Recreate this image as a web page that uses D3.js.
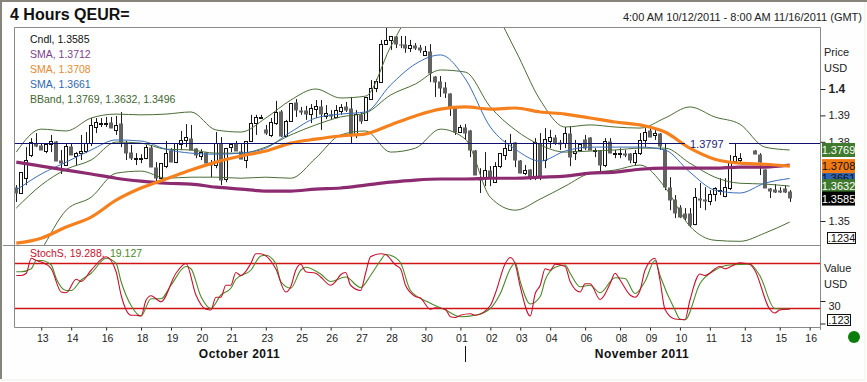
<!DOCTYPE html>
<html>
<head>
<meta charset="utf-8">
<title>4 Hours QEUR=</title>
<script src="https://cdn.jsdelivr.net/npm/d3@7"></script>
<style>
    html, body { margin: 0; padding: 0; background: #fff; overflow: hidden; }
    svg { display: block; font-family: "Liberation Sans", Arial, sans-serif; }
    .axis .domain { display: none; }
    .axis line { stroke: #222; }
    .axis text { fill: #222; font-family: "Liberation Sans", Arial, sans-serif; }
</style>
</head>
<body>
<div id="chart"></div>
<script>
// 4 hour candles, null where the picture has no candle
const opens = [1.3628,1.3606,1.3662,1.3750,1.3795,1.3788,1.3765,1.3792,1.3803,1.3731,
    1.3712,1.3784,1.3746,1.3757,1.3765,1.3795,1.3856,1.3868,1.3868,1.3875,
    1.3845,1.3871,1.3795,1.3761,1.3734,1.3734,1.3738,1.3780,1.3704,1.3662,
    1.3708,1.3769,1.3723,1.3792,1.3807,1.3814,1.3776,1.3746,1.3761,1.3723,
    1.3712,1.3795,1.3659,1.3780,1.3795,1.3765,1.3731,1.3803,1.3871,1.3890,
    1.3848,1.3826,1.3871,1.3917,1.3822,1.3879,1.3951,1.3920,1.3920,1.3905,
    1.3924,1.3936,1.3898,1.3905,1.3894,1.3917,1.3936,1.3928,1.3830,1.3905,
    1.3883,1.3962,1.4003,1.4026,1.4170,1.4186,1.4201,1.4170,1.4170,1.4155,
    1.4167,1.4159,1.4129,1.4144,1.4049,1.4030,1.4007,1.3984,1.3932,1.3837,
    1.3856,1.3845,1.3769,1.3666,1.3666,1.3693,1.3647,1.3708,1.3750,1.3769,
    1.3799,1.3731,1.3681,1.3696,1.3666,1.3795,1.3731,1.3803,1.3818,1.3799,
    1.3795,1.3833,1.3757,1.3769,1.3810,1.3818,1.3765,1.3769,1.3712,1.3803,
    1.3753,1.3753,1.3757,1.3757,1.3723,1.3757,1.3807,1.3845,1.3826,1.3833,
    1.3772,1.3628,1.3583,1.3552,1.3530,1.3530,1.3488,1.3587,1.3583,1.3575,
    1.3602,1.3613,1.3594,1.3625,1.3727,1.3731,null,null,1.3769,1.3753,
    1.3696,1.3625,1.3621,1.3617,1.3625,1.3613];
const highs = [1.3636,1.3685,1.3780,1.3814,1.3833,1.3795,1.3792,1.3826,1.3803,1.3769,
    1.3795,1.3795,1.3761,1.3826,1.3837,1.3890,1.3890,1.3890,1.3894,1.3894,
    1.3898,1.3913,1.3803,1.3788,1.3757,1.3753,1.3788,1.3788,1.3723,1.3719,
    1.3803,1.3776,1.3795,1.3841,1.3867,1.3864,1.3776,1.3772,1.3761,1.3731,
    1.3837,1.3818,1.3776,1.3792,1.3803,1.3795,1.3803,1.3902,1.3902,1.3902,
    1.3864,1.3890,1.3955,1.3920,1.3883,1.3947,1.3962,1.3932,1.3936,1.3943,
    1.3958,1.3958,1.3939,1.3920,1.3939,1.3943,1.3951,1.3970,1.3920,1.3913,
    1.3970,1.4034,1.4038,1.4186,1.4232,1.4201,1.4201,1.4201,1.4201,1.4186,
    1.4174,1.4167,1.4163,1.4170,1.4049,1.4049,1.4026,1.3984,1.3932,1.3864,
    1.3867,1.3845,1.3769,1.3700,1.3761,1.3708,1.3723,1.3757,1.3807,1.3830,
    1.3799,1.3731,1.3712,1.3696,1.3814,1.3833,1.3852,1.3845,1.3826,1.3807,
    1.3856,1.3860,1.3807,1.3792,1.3826,1.3818,1.3776,1.3769,1.3814,1.3814,
    1.3769,1.3776,1.3769,1.3757,1.3769,1.3833,1.3852,1.3852,1.3852,1.3833,
    1.3795,1.3666,1.3598,1.3560,1.3549,1.3549,1.3625,1.3644,1.3628,1.3617,
    1.3628,1.3662,1.3662,1.3750,1.3795,1.3757,null,null,1.3769,1.3757,
    1.3696,1.3625,1.3640,1.3628,1.3636,1.3617];
const lows = [1.3572,1.3606,1.3636,1.3742,1.3780,1.3769,1.3757,1.3761,1.3727,1.3678,
    1.3712,1.3750,1.3712,1.3731,1.3757,1.3784,1.3833,1.3856,1.3856,1.3852,
    1.3826,1.3780,1.3731,1.3731,1.3712,1.3719,1.3734,1.3704,1.3651,1.3655,
    1.3700,1.3723,1.3719,1.3769,1.3780,1.3769,1.3738,1.3731,1.3712,1.3666,
    1.3700,1.3636,1.3647,1.3761,1.3765,1.3734,1.3700,1.3799,1.3826,1.3890,
    1.3826,1.3818,1.3864,1.3818,1.3818,1.3875,1.3894,1.3902,1.3883,1.3871,
    1.3890,1.3845,1.3886,1.3886,1.3890,1.3902,1.3913,1.3795,1.3814,1.3868,
    1.3883,1.3962,1.3988,1.4026,1.4167,1.4148,1.4155,1.4155,1.4137,1.4140,
    1.4148,1.4137,1.4129,1.4026,1.3970,1.3970,1.3966,1.3898,1.3826,1.3833,
    1.3807,1.3742,1.3674,1.3606,1.3632,1.3632,1.3647,1.3700,1.3731,1.3769,
    1.3704,1.3681,1.3674,1.3655,1.3655,1.3655,1.3700,1.3776,1.3788,1.3769,
    1.3776,1.3708,1.3731,1.3769,1.3769,1.3769,1.3742,1.3685,1.3704,1.3757,
    1.3738,1.3738,1.3742,1.3719,1.3712,1.3750,1.3780,1.3818,1.3807,1.3769,
    1.3617,1.3541,1.3511,1.3511,1.3503,1.3477,1.3484,1.3549,1.3541,1.3560,
    1.3575,1.3598,1.3590,1.3617,1.3727,1.3719,null,null,1.3753,1.3674,
    1.3625,1.3587,1.3606,1.3606,1.3606,1.3572];
const closes = [1.3606,1.3685,1.3731,1.3799,1.3784,1.3769,1.3792,1.3803,1.3727,1.3719,
    1.3784,1.3750,1.3757,1.3765,1.3795,1.3864,1.3875,1.3871,1.3871,1.3852,
    1.3864,1.3799,1.3757,1.3738,1.3738,1.3738,1.3780,1.3704,1.3662,1.3719,
    1.3757,1.3723,1.3795,1.3807,1.3818,1.3769,1.3750,1.3761,1.3719,1.3712,
    1.3795,1.3655,1.3776,1.3792,1.3765,1.3734,1.3803,1.3871,1.3894,1.3894,
    1.3833,1.3875,1.3913,1.3822,1.3879,1.3947,1.3920,1.3913,1.3905,1.3928,
    1.3936,1.3905,1.3909,1.3898,1.3920,1.3932,1.3920,1.3830,1.3905,1.3879,
    1.3970,1.4003,1.4030,1.4170,1.4186,1.4201,1.4170,1.4167,1.4155,1.4167,
    1.4155,1.4148,1.4144,1.4061,1.4026,1.4003,1.3984,1.3932,1.3837,1.3856,
    1.3833,1.3769,1.3674,1.3655,1.3693,1.3666,1.3708,1.3757,1.3776,1.3795,
    1.3731,1.3681,1.3693,1.3666,1.3799,1.3666,1.3810,1.3818,1.3795,1.3792,
    1.3833,1.3742,1.3765,1.3792,1.3776,1.3769,1.3769,1.3712,1.3803,1.3757,
    1.3757,1.3757,1.3750,1.3731,1.3757,1.3807,1.3837,1.3818,1.3833,1.3784,
    1.3628,1.3579,1.3530,1.3515,1.3511,1.3484,1.3590,1.3579,1.3575,1.3602,
    1.3625,1.3617,1.3628,1.3727,1.3746,1.3738,null,null,1.3753,1.3723,
    1.3625,1.3613,1.3609,1.3609,1.3609,1.3585];

// overlays are read every 5 bars
const lineBars = d3.range(0, 156, 5);
const smaPurple = [1.3723,1.3708,1.3693,1.3678,1.3662,1.3651,1.3643,1.3640,1.3628,1.3621,1.3613,1.3613,1.3621,1.3625,1.3636,1.3647,
    1.3655,1.3659,1.3659,1.3662,1.3662,1.3666,1.3670,1.3681,1.3685,1.3696,1.3700,1.3700,1.3700,1.3704,1.3704,1.3712];
const smaOrange = [1.3416,1.3435,1.3477,1.3515,1.3579,1.3625,1.3659,1.3693,1.3723,1.3746,1.3765,1.3795,1.3810,1.3822,1.3830,1.3864,
    1.3898,1.3924,1.3932,1.3924,1.3928,1.3913,1.3905,1.3890,1.3875,1.3864,1.3837,1.3776,1.3734,1.3719,1.3715,1.3708];
const smaBlue = [1.3617,1.3678,1.3723,1.3769,1.3807,1.3803,1.3772,1.3757,1.3753,1.3757,1.3776,1.3837,1.3890,1.3905,1.3913,1.4015,
    1.4095,1.4129,1.4038,1.3856,1.3772,1.3727,1.3765,1.3780,1.3780,1.3780,1.3769,1.3685,1.3617,1.3606,1.3643,1.3661];
const bandUpper = [1.3761,1.3848,1.3841,1.3890,1.3905,1.3902,1.3905,1.3913,1.3845,1.3837,1.3890,1.3958,1.4000,1.3966,1.3973,1.4159,
    1.4318,1.4375,1.4375,1.4318,1.4148,1.3958,1.3856,1.3864,1.3856,1.3852,1.3890,1.3932,1.3894,1.3867,1.3780,1.3769];
const bandMiddle = [1.3549,1.3636,1.3696,1.3731,1.3799,1.3795,1.3772,1.3769,1.3757,1.3757,1.3780,1.3826,1.3864,1.3894,1.3909,1.3977,
    1.4019,1.4072,1.4064,1.3932,1.3845,1.3788,1.3761,1.3765,1.3769,1.3776,1.3776,1.3719,1.3666,1.3643,1.3640,1.3632];
const bandLower = [1.3238,1.3390,1.3541,1.3590,1.3681,1.3689,1.3662,1.3666,1.3666,1.3662,1.3666,1.3662,1.3738,1.3826,1.3841,1.3761,
    1.3776,1.3848,1.3810,1.3590,1.3541,1.3583,1.3632,1.3681,1.3693,1.3712,1.3628,1.3480,1.3427,1.3423,1.3454,1.3496];

// stochastic turning points, [bar, value]
const stochRed = [[0,64],[1,64],[2,67],[3,87],[4,84],[5,82],[7,73],[9,42],[10,41],[12,59],[13,56],[15,71],[18,89],[20,69],[21,38],[23,11],[24,11],[25,10],
    [26,31],[27,37],[29,29],[32,67],[34,80],[36,38],[38,19],[39,18],[40,35],[41,35],[42,51],[43,51],[44,68],[45,64],[47,80],[48,93],[49,93],[52,73],[54,42],
    [55,49],[56,71],[57,79],[58,69],[60,67],[61,62],[63,51],[64,56],[65,65],[66,68],[67,51],[69,44],[70,67],[71,89],[73,93],[74,92],[76,78],[77,73],[78,51],
    [80,36],[81,34],[83,19],[84,21],[86,19],[87,9],[88,8],[89,11],[91,13],[92,11],[95,24],[96,40],[98,80],[99,88],[100,79],[101,49],[103,10],[104,40],[105,51],
    [106,73],[107,71],[108,79],[110,76],[111,56],[113,42],[114,53],[115,53],[117,32],[119,53],[120,67],[121,58],[123,38],[124,35],[125,44],[126,71],[128,87],
    [129,58],[130,19],[132,6],[134,5],[135,31],[137,66],[138,64],[141,76],[142,73],[145,81],[147,79],[148,71],[151,19],[152,14],[153,18],[155,19.288]];
const stochGreen = [[0,69],[1,69],[3,73],[4,84],[5,84],[7,78],[8,60],[10,44],[11,44],[13,58],[15,67],[18,87],[20,80],[21,56],[23,24],[25,10],[27,33],[29,33],
    [31,51],[34,76],[35,73],[37,36],[39,20],[41,38],[43,47],[44,59],[47,71],[49,90],[50,91],[52,80],[53,56],[55,47],[57,71],[58,75],[61,66],[63,56],[66,62],
    [69,48],[71,64],[73,84],[74,92],[75,91],[77,81],[79,44],[83,27],[86,18],[89,9],[92,11],[95,20],[97,40],[99,73],[100,81],[101,56],[103,26],[105,36],[106,58],
    [108,75],[110,78],[111,67],[113,49],[115,51],[117,41],[120,61],[122,60],[124,40],[126,56],[128,84],[129,64],[132,18],[133,6],[134,5],[137,53],[140,71],
    [143,78],[147,79],[149,64],[152,20],[155,19.127]];

const dayBars = [5,11,18,25,31,37,43,50,57,63,69,75,82,89,95,101,107,114,121,127,133,139,146,153,159];
const dayLabels = ["13","14","16","18","19","20","21","23","25","26","27","28","30","01","02","03","04","06","08","09","10","11","13","15","16"];
const priceTicks = [1.4, 1.39, 1.38, 1.35];
const stochTicks = [30, 0];
const stochLevels = [80, 20];
const lastPrice = 1.3797;

const legendLabels = ["Cndl, 1.3585", "SMA, 1.3712", "SMA, 1.3708", "SMA, 1.3661", "BBand, 1.3769, 1.3632, 1.3496"];
const legendColors = ["#111111", "#7d3f8c", "#e58a30", "#2f68b0", "#40662f"];

// value tags on the right, in drawing order
const tagValues = [1.3661, 1.3708, 1.3632, 1.3769, 1.3585];
const tagColors = ["#2c63b4", "#f07a14", "#3f7a2e", "#3f7a2e", "#000000"];

const wSvg = 867, hSvg = 382;
const plotLeft = 14.5, plotRight = 820.5, plotTop = 27.5, plotSplit = 245.5, plotBottom = 327.5;

const svg = d3.select("#chart").append("svg").attr("width", wSvg).attr("height", hSvg);

// outer frame
svg.append("rect").attr("width", wSvg).attr("height", hSvg).attr("fill", "#fefefe");
svg.append("rect").attr("x", 1).attr("y", 1).attr("width", 864).attr("height", 379)
    .attr("fill", "none").attr("stroke", "#eeeee8");
svg.append("line").attr("x1", 0).attr("x2", wSvg).attr("y1", 1).attr("y2", 1).attr("stroke", "#85857c").attr("stroke-width", 2);
svg.append("line").attr("x1", 1).attr("x2", 1).attr("y1", 0).attr("y2", hSvg - 3).attr("stroke", "#85857c").attr("stroke-width", 2);

svg.append("rect").attr("x", plotLeft).attr("y", plotTop).attr("width", plotRight - plotLeft).attr("height", plotBottom - plotTop).attr("fill", "#fff");

const xScale = d3.scaleLinear([0, 155], [16.3, 789.7]);
const yPrice = d3.scaleLinear([1.4, 1.35], [89, 221]);
const yStoch = d3.scaleLinear([80, 20], [263.5, 308.5]);

svg.append("clipPath").attr("id", "priceClip").append("rect")
    .attr("x", plotLeft).attr("y", plotTop).attr("width", plotRight - plotLeft).attr("height", plotSplit - plotTop);

let priceG = svg.append("g").attr("clip-path", "url(#priceClip)");

// candles
let candles = opens.map((o, i) => ({ i: i, o: o, h: highs[i], l: lows[i], c: closes[i] })).filter(d => d.o !== null);

priceG.append("g").selectAll("line")
    .data(candles)
    .enter()
    .append("line")
    .attr("x1", d => Math.round(xScale(d.i)) + 0.5)
    .attr("x2", d => Math.round(xScale(d.i)) + 0.5)
    .attr("y1", d => yPrice(d.h))
    .attr("y2", d => yPrice(d.l))
    .attr("stroke", "#1c1c1c");

priceG.append("g").selectAll("rect")
    .data(candles)
    .enter()
    .append("rect")
    .attr("x", d => Math.round(xScale(d.i)) + (d.c >= d.o ? -1.5 : -2))
    .attr("width", d => d.c >= d.o ? 3 : 4)
    .attr("y", d => Math.round(yPrice(Math.max(d.o, d.c))) + 0.5)
    .attr("height", d => Math.max(1, Math.round(Math.abs(yPrice(d.o) - yPrice(d.c)))))
    .attr("fill", d => d.c >= d.o ? "#fff" : "#626262")
    .attr("stroke", d => d.c >= d.o ? "#111" : "none");

// overlays
const priceLine = d3.line()
    .x((d, i) => xScale(lineBars[i]))
    .y(d => yPrice(d))
    .curve(d3.curveMonotoneX);

function addPriceLine(values, color, width) {
    priceG.append("path")
        .attr("d", priceLine(values))
        .attr("fill", "none")
        .attr("stroke", color)
        .attr("stroke-width", width);
}

addPriceLine(bandUpper, "#4a6b35", 1);
addPriceLine(bandMiddle, "#4a6b35", 1);
addPriceLine(bandLower, "#4a6b35", 1);
addPriceLine(smaBlue, "#3a6cb5", 1);
addPriceLine(smaPurple, "#8c2b70", 3.2);
addPriceLine(smaOrange, "#f5801e", 3.2);

// last price line, broken around its label
let lastY = Math.round(yPrice(lastPrice)) + 0.5;
svg.append("line").attr("x1", plotLeft).attr("x2", 685).attr("y1", lastY).attr("y2", lastY).attr("stroke", "#10106e");
svg.append("line").attr("x1", 729).attr("x2", plotRight).attr("y1", lastY).attr("y2", lastY).attr("stroke", "#10106e");
svg.append("text").attr("x", 690).attr("y", lastY + 4).attr("font-size", 11).attr("fill", "#1c1c78").text(String(lastPrice));

// stochastic panel
svg.selectAll(".level")
    .data(stochLevels)
    .enter()
    .append("line")
    .attr("class", "level")
    .attr("x1", plotLeft)
    .attr("x2", plotRight)
    .attr("y1", d => yStoch(d))
    .attr("y2", d => yStoch(d))
    .attr("stroke", "#d01414")
    .attr("stroke-width", 1.3);

const stochLine = d3.line().x(d => xScale(d[0])).y(d => yStoch(d[1])).curve(d3.curveMonotoneX);
svg.append("path").attr("d", stochLine(stochGreen)).attr("fill", "none").attr("stroke", "#4c8a28").attr("stroke-width", 1.1);
svg.append("path").attr("d", stochLine(stochRed)).attr("fill", "none").attr("stroke", "#c8102e").attr("stroke-width", 1.1);

// plot borders
svg.append("line").attr("x1", plotLeft).attr("x2", plotRight).attr("y1", plotTop).attr("y2", plotTop).attr("stroke", "#8a8a8a");
svg.append("line").attr("x1", 3).attr("x2", plotRight).attr("y1", plotSplit).attr("y2", plotSplit).attr("stroke", "#8a8a8a");
svg.append("line").attr("x1", plotLeft).attr("x2", plotRight).attr("y1", plotBottom).attr("y2", plotBottom).attr("stroke", "#8a8a8a");
svg.append("line").attr("x1", plotLeft).attr("x2", plotLeft).attr("y1", plotTop).attr("y2", plotBottom).attr("stroke", "#8a8a8a");
svg.append("line").attr("x1", plotRight).attr("x2", plotRight).attr("y1", plotTop).attr("y2", 330).attr("stroke", "#8a8a8a");

// titles
svg.append("text").attr("x", 10).attr("y", 20).attr("font-size", 16).attr("font-weight", "bold").attr("fill", "#111").text("4 Hours QEUR=");
svg.append("text").attr("x", 862).attr("y", 20.5).attr("text-anchor", "end").attr("font-size", 11).attr("fill", "#222")
    .text("4:00 AM 10/12/2011 - 8:00 AM 11/16/2011 (GMT)");

// legend
svg.selectAll(".legend")
    .data(legendLabels)
    .enter()
    .append("text")
    .attr("class", "legend")
    .attr("x", 30)
    .attr("y", (d, i) => 43 + i * 15)
    .attr("font-size", 10.5)
    .attr("fill", (d, i) => legendColors[i])
    .text(d => d);

svg.append("text").attr("x", 30).attr("y", 257).attr("font-size", 10.5).attr("fill", "#c8102e").text("StochS, 19.288,");
svg.append("text").attr("x", 110).attr("y", 257).attr("font-size", 10.5).attr("fill", "#4c8a28").text("19.127");

// x axis
let xAxis = d3.axisBottom(xScale)
    .tickValues(dayBars)
    .tickFormat((d, i) => dayLabels[i])
    .tickSize(3)
    .tickPadding(4);

let xG = svg.append("g").attr("class", "axis").attr("transform", `translate(0, ${plotBottom})`).call(xAxis);
xG.selectAll("text").attr("font-size", 10.5).attr("dx", 1);

svg.append("text").attr("x", 239.5).attr("y", 358).attr("text-anchor", "middle").attr("font-size", 12).attr("font-weight", "bold")
    .attr("letter-spacing", 0.5).attr("fill", "#111").text("October 2011");
svg.append("text").attr("x", 642).attr("y", 358).attr("text-anchor", "middle").attr("font-size", 12).attr("font-weight", "bold")
    .attr("letter-spacing", 0.5).attr("fill", "#111").text("November 2011");
svg.append("line").attr("x1", 465.5).attr("x2", 465.5).attr("y1", 346).attr("y2", 362).attr("stroke", "#111");

// right axes
let priceAxis = d3.axisRight(yPrice).tickValues(priceTicks).tickFormat(d => String(d)).tickSize(5).tickPadding(3);
let pG = svg.append("g").attr("class", "axis").attr("transform", `translate(${plotRight}, 0)`).call(priceAxis);
pG.selectAll("text")
    .attr("font-size", d => d === 1.4 ? 12 : 11)
    .attr("font-weight", d => d === 1.4 ? "bold" : "normal");

let stochAxis = d3.axisRight(yStoch).tickValues(stochTicks).tickFormat(d => d === 30 ? "30" : "").tickSize(5).tickPadding(3);
let sG = svg.append("g").attr("class", "axis").attr("transform", `translate(${plotRight}, 0)`).call(stochAxis);
sG.selectAll("text").attr("font-size", 11).attr("dy", "0.8em");

[["Price", 56], ["USD", 72], ["Value", 272], ["USD", 288]].forEach(t => {
    svg.append("text").attr("x", 824).attr("y", t[1]).attr("font-size", 11).attr("fill", "#222").text(t[0]);
});

// value tags
tagValues.forEach((v, i) => {
    let y = yPrice(v);
    svg.append("rect").attr("x", 822).attr("y", y - 7).attr("width", 33).attr("height", 14).attr("fill", tagColors[i]);
    svg.append("text").attr("x", 838.5).attr("y", y + 4).attr("text-anchor", "middle").attr("font-size", 11)
        .attr("fill", v === 1.3661 || v === 1.3708 ? "#111" : "#fff").text(v.toFixed(4));
});

// scale boxes
svg.append("rect").attr("x", 827.5).attr("y", 232.5).attr("width", 28).attr("height", 11).attr("fill", "#fff").attr("stroke", "#111");
svg.append("text").attr("x", 841.5).attr("y", 242).attr("text-anchor", "middle").attr("font-size", 11).attr("fill", "#111").text(".1234");
svg.append("rect").attr("x", 827.5).attr("y", 314.5).attr("width", 23).attr("height", 11).attr("fill", "#fff").attr("stroke", "#111");
svg.append("text").attr("x", 839).attr("y", 324).attr("text-anchor", "middle").attr("font-size", 11).attr("fill", "#111").text(".123");

svg.append("circle").attr("cx", 854).attr("cy", 337).attr("r", 6).attr("fill", "#0a7d0a");
</script>
</body>
</html>
